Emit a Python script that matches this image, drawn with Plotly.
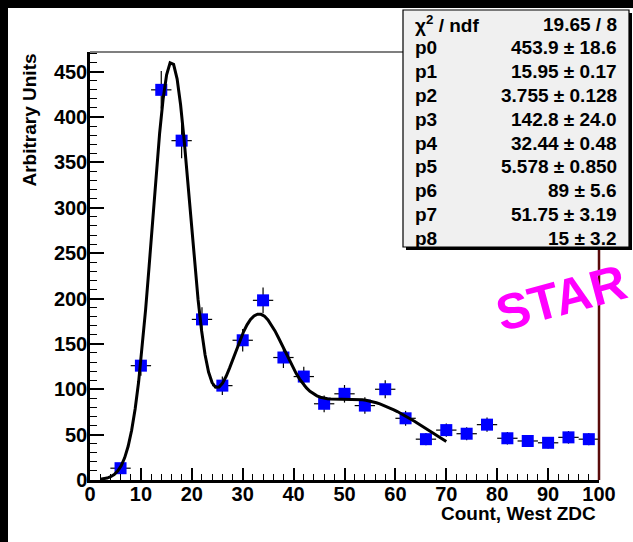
import numpy as np
import plotly.graph_objects as go

# ---------------- data ----------------
bin_centers = [6, 10, 14, 18, 22, 26, 30, 34, 38, 42, 46, 50, 54, 58, 62, 66, 70, 74, 78, 82, 86, 90, 94, 98]
counts = [13, 126, 430, 374, 177, 104, 154, 198, 135, 114, 84, 95, 82, 100, 68, 45, 55, 51, 61, 46, 43, 41, 47, 45]
count_errors = [3.6, 11.2, 20.7, 19.3, 13.3, 10.2, 12.4, 14.1, 11.6, 10.7, 9.2, 9.7, 9.1, 10.0, 8.2, 6.7,
                7.4, 7.1, 7.8, 6.8, 6.6, 6.4, 6.9, 6.7]
bin_half_width = [2] * len(bin_centers)

# fit parameters (three gaussians: amplitude, mean, sigma)
fit_params = [453.9, 15.95, 3.755, 142.8, 32.44, 5.578, 89.0, 51.75, 15.0]
fit_range = [2, 70]

stat_labels = ["χ<sup>2</sup> / ndf", "p0", "p1", "p2", "p3", "p4", "p5", "p6", "p7", "p8"]
stat_values = ["19.65 / 8", "453.9 ± 18.6", "15.95 ± 0.17", "3.755 ± 0.128", "142.8 ± 24.0",
               "32.44 ± 0.48", "5.578 ± 0.850", "89 ± 5.6", "51.75 ± 3.19", "15 ± 3.2"]

x_title = "Count, West ZDC"
y_title = "Arbitrary Units"
logo_text = "STAR"

# ---------------- layout geometry ----------------
W, H = 633, 542
L, R, T, B = 90, 34, 52, 62
PW, PH = W - L - R, H - T - B


def px(x):
    return (x - L) / PW


def py(y):
    return (H - B - y) / PH


FONT = "Liberation Sans, Arial, Helvetica, sans-serif"

# fit curve from parameters
xf = np.linspace(fit_range[0], fit_range[1], 100)
yf = np.zeros_like(xf)
for i in range(0, 9, 3):
    a, m, s = fit_params[i:i + 3]
    yf += a * np.exp(-0.5 * ((xf - m) / s) ** 2)

fig = go.Figure()
fig.add_trace(go.Scatter(
    x=bin_centers, y=counts, mode="markers",
    marker=dict(symbol="square", size=12, color="#0000ff", line=dict(width=0)),
    error_y=dict(type="data", array=count_errors, color="black", thickness=1.2, width=0),
    error_x=dict(type="data", array=bin_half_width, color="black", thickness=1.2, width=0),
    showlegend=False, hoverinfo="skip"))
fig.add_trace(go.Scatter(
    x=xf, y=yf, mode="lines", line=dict(color="black", width=3),
    showlegend=False, hoverinfo="skip"))

shapes = []
# black strips on left and top
shapes.append(dict(type="rect", xref="paper", yref="paper", x0=px(0), x1=px(8), y0=py(H), y1=py(0),
                   fillcolor="black", line=dict(width=0)))
shapes.append(dict(type="rect", xref="paper", yref="paper", x0=px(0), x1=px(W), y0=py(8), y1=py(0),
                   fillcolor="black", line=dict(width=0)))
# frame top (grey) and right (dark red)
shapes.append(dict(type="line", xref="paper", yref="paper", x0=0, x1=1, y0=1, y1=1,
                   line=dict(color="#555555", width=1.5)))
shapes.append(dict(type="line", xref="paper", yref="paper", x0=1, x1=1, y0=0, y1=1,
                   line=dict(color="#5a0a0a", width=2.5)))
# stats box shadow and box
shapes.append(dict(type="rect", xref="paper", yref="paper", x0=px(406), x1=px(632), y0=py(250), y1=py(13),
                   fillcolor="black", line=dict(width=0)))
shapes.append(dict(type="rect", xref="paper", yref="paper", x0=px(403), x1=px(629), y0=py(247), y1=py(10),
                   fillcolor="#f0f0f0", line=dict(color="black", width=1.2)))

annotations = []
row0, pitch = 24, 23.8
for i, (lab, val) in enumerate(zip(stat_labels, stat_values)):
    yy = py(row0 + i * pitch)
    annotations.append(dict(text="<b>%s</b>" % lab, xref="paper", yref="paper", x=px(413), y=yy,
                            xanchor="left", yanchor="middle", showarrow=False,
                            font=dict(family=FONT, size=19, color="black")))
    annotations.append(dict(text="<b>%s</b>" % val, xref="paper", yref="paper", x=px(619), y=yy,
                            xanchor="right", yanchor="middle", showarrow=False,
                            font=dict(family=FONT, size=19, color="black")))

annotations.append(dict(text="<b>%s</b>" % y_title, xref="paper", yref="paper", x=px(29), y=1.0,
                        xanchor="center", yanchor="top", textangle=-90, showarrow=False,
                        font=dict(family=FONT, size=19, color="black")))
annotations.append(dict(text="<b>%s</b>" % x_title, xref="paper", yref="paper", x=px(598), y=py(513),
                        xanchor="right", yanchor="middle", showarrow=False,
                        font=dict(family=FONT, size=19, color="black")))
annotations.append(dict(text="<b>%s</b>" % logo_text, xref="paper", yref="paper", x=px(561), y=py(298),
                        xanchor="center", yanchor="middle", textangle=-15, showarrow=False,
                        font=dict(family=FONT, size=50, color="#ff00ff")))

fig.update_layout(
    width=W, height=H,
    margin=dict(l=L, r=R, t=T, b=B, pad=0),
    paper_bgcolor="white", plot_bgcolor="white",
    shapes=shapes, annotations=annotations,
    font=dict(family=FONT, color="black"),
)
fig.update_xaxes(
    range=[0, 100], dtick=10, tick0=0, ticks="inside", ticklen=12, tickwidth=1.5, tickcolor="black",
    minor=dict(dtick=2, ticks="inside", ticklen=6, tickwidth=1, tickcolor="black"),
    showline=True, linecolor="black", linewidth=2.5, showgrid=False, zeroline=False,
    ticklabelstandoff=-6,
    tickfont=dict(family=FONT, size=20, color="black", weight="bold"))
fig.update_yaxes(
    range=[0, 471.7], dtick=50, tick0=0, ticks="inside", ticklen=14, tickwidth=1.5, tickcolor="black",
    minor=dict(dtick=10, ticks="inside", ticklen=7, tickwidth=1, tickcolor="black"),
    showline=True, linecolor="black", linewidth=2.5, showgrid=False, zeroline=False,
    ticklabelstandoff=-4,
    tickfont=dict(family=FONT, size=20, color="black", weight="bold"))

fig.write_html("out.html")
